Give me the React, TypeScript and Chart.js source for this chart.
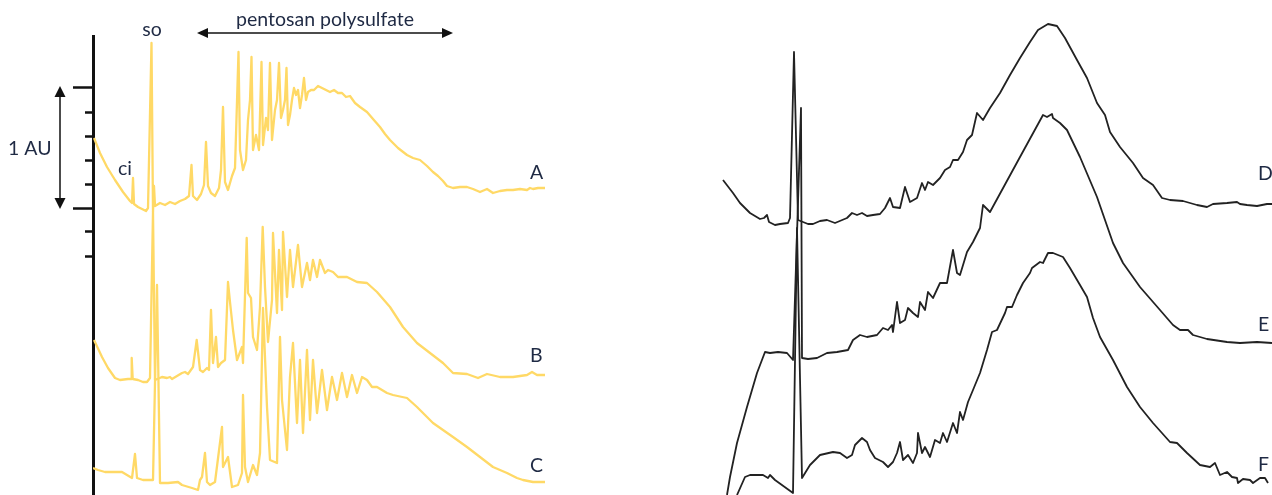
import React, { useEffect, useRef } from "react";
import { Chart, registerables } from "chart.js";

Chart.register(...registerables);

// ---- Left panel: UV absorbance traces A–C (signal units, 120 units = 1 AU) ----
const SIGNAL_PER_AU = 120;
const auTicks = [1, 0.8, 0.6, 0.4, 0.2, 0, -0.2, -0.4];
const auMajorTicks = [1, 0];

const leftLabels = ["A", "B", "C"];
const leftOffsets = [0, -172, -272];

const timeA = [1, 7, 14, 22, 30, 37, 39, 40, 41, 45, 53, 55, 58.5, 60, 61, 62, 67, 72, 77, 82, 87, 92, 96, 98.5, 100, 104, 108, 111, 113, 115, 118, 122, 126, 128, 130, 132, 135, 139, 142, 145.5, 147, 150, 153, 155, 157, 158.5, 160, 163, 166, 168.5, 170, 173, 175, 177, 179, 182, 184, 186, 188, 190, 192, 193.5, 195, 197, 199, 201, 203, 205, 207, 209, 211, 213, 215, 218, 221, 225, 229, 233, 237, 241, 245, 249, 253, 257, 262, 267, 274, 280, 287, 292, 297, 305, 314, 320, 327, 334, 340, 345, 350, 354, 360, 367, 374, 380, 387, 394, 400, 407, 414, 420, 427, 434, 437, 440, 445, 453];
const signalA = [70, 55, 41, 28, 16, 7, 5, 30, 4, 1, -3, 0, 165, -4, 22, 2, 5, 3, 6, 4, 7, 9, 12, 43, 12, 8, 14, 23, 66, 22, 15, 12, 20, 38, 101, 26, 18, 32, 40, 156, 58, 38, 48, 88, 108, 151, 58, 73, 58, 146, 63, 90, 78, 145, 68, 98, 108, 145, 90, 98, 108, 140, 83, 93, 108, 120, 113, 118, 100, 113, 130, 108, 116, 118, 118, 122, 120, 118, 116, 118, 115, 115, 111, 112, 105, 101, 96, 89, 81, 74, 68, 60, 53, 50, 48, 42, 36, 32, 27, 22, 20, 21, 21, 19, 16, 19, 15, 17, 18, 18, 19, 18, 20, 19, 20, 20];

const timeB = [1, 9, 15, 22, 27, 35, 38, 38.7, 39.7, 45, 50, 54, 57, 60, 62, 69, 74, 77, 79, 84, 89, 92, 95, 100, 103.7, 107, 110, 114, 116, 118, 120, 123, 125, 128, 132, 135, 137, 140, 144, 149, 150, 153.7, 155, 158, 160, 164, 167, 169.7, 172, 175, 179, 180, 184, 186, 189, 190, 194, 197, 200, 205, 209, 214, 217, 220, 224, 227, 232, 235, 240, 245, 254, 264, 274, 284, 297, 310, 324, 337, 350, 360, 374, 385, 394, 407, 420, 434, 439, 444, 452];
const signalB = [40, 23, 12, 2, 0, 1, 1, 22, 1, 0, -2, -2, 2, 168, 0, 3, 2, 3, 1, 4, 7, 8, 6, 13, 40, 10, 8, 12, 10, 70, 17, 43, 13, 17, 20, 98, 78, 50, 20, 33, 17, 142, 87, 82, 43, 30, 73, 153, 93, 38, 80, 147, 67, 130, 70, 148, 83, 130, 93, 135, 93, 117, 100, 120, 103, 120, 107, 110, 108, 103, 103, 98, 97, 88, 73, 53, 37, 27, 17, 7, 6, 2, 6, 3, 3, 5, 8, 5, 5];

const timeC = [0, 5, 12, 29, 34, 39, 42, 44, 50, 60, 64, 67, 75, 85, 89, 99, 105, 107, 109, 112, 114, 117, 122, 129, 130, 135, 139, 145, 149, 150, 152, 155, 160, 164, 167, 170, 174, 177, 184, 187, 189, 194, 197, 200, 204, 207, 210, 214, 217, 220, 224, 229, 234, 239, 244, 249, 254, 259, 264, 269, 274, 279, 284, 294, 300, 314, 324, 334, 340, 350, 360, 374, 387, 400, 414, 424, 430, 440, 452];
const signalC = [12, 10, 8, 8, 5, 2, 26, 2, 0, 0, 195, -3, -3, -2, -5, -8, -10, 0, 3, 27, -2, -5, -2, 53, 13, 23, -7, -5, 7, 85, 13, -2, 15, 5, 27, 172, 73, 20, 17, 143, 80, 30, 103, 137, 57, 120, 47, 130, 60, 120, 67, 110, 70, 103, 80, 107, 83, 105, 87, 103, 100, 93, 93, 87, 85, 82, 73, 63, 57, 50, 43, 33, 23, 13, 7, 2, 0, -2, -2];

// ---- Right panel: traces D–F ----
const rightLabels = ["D", "E", "F"];
const rightOffsets = [272, 137, 2];

const timeD = [1, 11, 18, 28, 38, 42, 45, 47, 53, 58, 66, 68, 72, 76, 81, 86, 91, 98, 105, 113, 125, 130, 135, 140, 145, 151, 158, 163, 168, 171, 178, 183, 188, 195, 200, 203, 206, 211, 218, 223, 228, 231, 236, 241, 245, 250, 255, 261, 268, 278, 288, 298, 308, 316, 326, 335, 343, 355, 365, 375, 383, 388, 398, 411, 421, 431, 440, 448, 461, 475, 485, 491, 505, 515, 518, 525, 535, 545, 550];
const signalD = [43, 30, 20, 10, 4, 5, 8, 1, -2, -1, 0, 5, 171, 3, 1, -1, -1, 2, 3, 0, 5, 10, 8, 10, 7, 8, 9, 15, 25, 16, 15, 36, 21, 25, 40, 33, 41, 38, 45, 53, 56, 63, 63, 71, 83, 88, 110, 103, 115, 130, 148, 165, 181, 193, 199, 197, 185, 163, 145, 120, 108, 91, 76, 60, 45, 38, 25, 23, 22, 18, 16, 19, 20, 21, 19, 18, 17, 19, 19];

const timeE = [5, 8, 15, 25, 35, 43, 48, 56, 65, 71, 79, 80, 86, 95, 105, 115, 126, 131, 138, 145, 155, 161, 166, 170, 171, 175, 178, 183, 186, 191, 196, 198, 203, 206, 211, 218, 225, 231, 235, 238, 245, 251, 258, 261, 268, 298, 321, 325, 330, 331, 338, 345, 358, 375, 391, 401, 418, 438, 451, 458, 466, 471, 485, 505, 518, 535, 550];
const signalE = [-137, -119, -85, -49, -15, 6, 5, 6, 5, -2, 250, 0, -1, 0, 5, 6, 8, 18, 23, 21, 23, 30, 28, 33, 26, 56, 35, 38, 50, 45, 41, 56, 48, 66, 60, 75, 75, 108, 85, 83, 106, 116, 130, 153, 146, 201, 243, 241, 244, 240, 235, 228, 201, 161, 115, 95, 71, 48, 33, 28, 28, 23, 19, 16, 15, 16, 15];

const timeF = [15, 23, 28, 41, 46, 48, 53, 71, 75, 80, 88, 98, 111, 118, 125, 130, 133, 140, 145, 148, 153, 161, 166, 171, 175, 178, 181, 186, 191, 195, 196, 200, 203, 208, 213, 218, 221, 225, 231, 235, 238, 241, 246, 251, 258, 265, 270, 275, 283, 285, 290, 295, 301, 308, 310, 318, 321, 326, 331, 341, 348, 358, 365, 371, 378, 391, 405, 418, 431, 448, 455, 465, 478, 488, 493, 498, 505, 510, 515, 516, 521, 528, 531, 538, 543, 546];
const signalF = [-2, 16, 18, 18, 15, 18, 13, 0, 265, 15, 28, 38, 41, 40, 35, 38, 48, 55, 51, 43, 35, 31, 26, 31, 40, 51, 33, 38, 30, 40, 60, 40, 46, 36, 53, 50, 60, 51, 70, 60, 81, 73, 91, 103, 120, 143, 161, 163, 180, 186, 186, 198, 210, 220, 225, 231, 230, 240, 240, 236, 225, 208, 196, 175, 156, 133, 106, 86, 70, 51, 50, 40, 28, 26, 30, 18, 21, 16, 15, 10, 14, 13, 10, 15, 15, 10];

const TEXT_COLOR = "#1f2a44";
const TEXT_FONT = "19.5px Lato, 'Open Sans', sans-serif";

function toPoints(times: number[], signal: number[], offset: number) {
  return times.map((t, i) => ({ x: t, y: offset + signal[i] }));
}

function doubleArrow(ctx: CanvasRenderingContext2D, x1: number, y1: number, x2: number, y2: number, head: number, half: number) {
  const a = Math.atan2(y2 - y1, x2 - x1);
  const c = Math.cos(a);
  const s = Math.sin(a);
  ctx.beginPath();
  ctx.moveTo(x1 + c * head * 0.8, y1 + s * head * 0.8);
  ctx.lineTo(x2 - c * head * 0.8, y2 - s * head * 0.8);
  ctx.stroke();
  const tip = (tx: number, ty: number, dir: number) => {
    const bx = tx - dir * c * head;
    const by = ty - dir * s * head;
    ctx.beginPath();
    ctx.moveTo(tx, ty);
    ctx.lineTo(bx - s * half, by + c * half);
    ctx.lineTo(bx + s * half, by - c * half);
    ctx.closePath();
    ctx.fill();
  };
  tip(x2, y2, 1);
  tip(x1, y1, -1);
}

const leftNotes = {
  id: "leftNotes",
  afterDraw(chart: any) {
    const { ctx } = chart;
    const xs = chart.scales.x;
    const ys = chart.scales.y;
    const X = (v: number) => xs.getPixelForValue(v);
    const Y = (v: number) => ys.getPixelForValue(v);
    ctx.save();
    ctx.fillStyle = TEXT_COLOR;
    ctx.strokeStyle = "#111";
    ctx.font = TEXT_FONT;
    ctx.textBaseline = "alphabetic";

    // peak labels
    ctx.textAlign = "center";
    ctx.fillText("so", X(59), Y(172));
    ctx.textAlign = "left";
    ctx.fillText("ci", X(25), Y(33));

    // elution window of the polysaccharide
    ctx.textAlign = "center";
    ctx.fillText("pentosan polysulfate", X(232), Y(182));
    ctx.lineWidth = 1.5;
    ctx.fillStyle = "#111";
    doubleArrow(ctx, X(104), Y(175), X(360), Y(175), 11, 5);

    // 1 AU scale bar
    doubleArrow(ctx, X(-33), Y(SIGNAL_PER_AU + 2), X(-33), Y(-1), 11, 5.5);
    ctx.fillStyle = TEXT_COLOR;
    ctx.textAlign = "left";
    ctx.fillText("1 AU", X(-85), Y(53));

    // trace names
    const nameY = [29, -154, -264];
    leftLabels.forEach((name, i) => ctx.fillText(name, X(437), Y(nameY[i])));
    ctx.restore();
  },
};

const rightNotes = {
  id: "rightNotes",
  afterDraw(chart: any) {
    const { ctx } = chart;
    const xs = chart.scales.x;
    const ys = chart.scales.y;
    ctx.save();
    ctx.fillStyle = TEXT_COLOR;
    ctx.font = TEXT_FONT;
    ctx.textAlign = "left";
    ctx.textBaseline = "alphabetic";
    const nameY = [315, 164, 24];
    rightLabels.forEach((name, i) => ctx.fillText(name, xs.getPixelForValue(536), ys.getPixelForValue(nameY[i])));
    ctx.restore();
  },
};

export default function App() {
  const leftRef = useRef<HTMLCanvasElement>(null);
  const rightRef = useRef<HTMLCanvasElement>(null);

  useEffect(() => {
    const yellow = {
      borderColor: "#FFD966",
      borderWidth: 2.3,
      pointRadius: 0,
      tension: 0,
      borderJoinStyle: "round" as const,
      fill: false,
    };
    const auTickValues = auTicks.map((v) => v * SIGNAL_PER_AU);
    const auMajorValues = auMajorTicks.map((v) => v * SIGNAL_PER_AU);

    const left = new Chart(leftRef.current!, {
      type: "line",
      data: {
        datasets: [
          { label: leftLabels[0], data: toPoints(timeA, signalA, leftOffsets[0]), ...yellow },
          { label: leftLabels[1], data: toPoints(timeB, signalB, leftOffsets[1]), ...yellow },
          { label: leftLabels[2], data: toPoints(timeC, signalC, leftOffsets[2]), ...yellow },
        ],
      },
      options: {
        animation: false,
        responsive: false,
        events: [],
        layout: { padding: { left: 73, right: 95, top: 36, bottom: 0 } },
        plugins: { legend: { display: false }, tooltip: { enabled: false } },
        scales: {
          x: { type: "linear", min: 0, max: 452, display: false },
          y: {
            type: "linear",
            position: "left",
            weight: 0,
            min: -287,
            max: 172,
            afterBuildTicks: (s: any) => {
              s.ticks = auTickValues.map((v) => ({ value: v }));
            },
            ticks: { display: false },
            grid: { drawOnChartArea: false, drawTicks: true, tickLength: 8, tickWidth: 2.5, tickColor: "#111" },
            border: { display: true, color: "#111", width: 3 },
          },
          y2: {
            type: "linear",
            position: "left",
            weight: 1,
            min: -287,
            max: 172,
            afterBuildTicks: (s: any) => {
              s.ticks = auMajorValues.map((v) => ({ value: v }));
            },
            ticks: { display: false },
            grid: { drawOnChartArea: false, drawTicks: true, tickLength: 12, tickWidth: 2.5, tickColor: "#111" },
            border: { display: false },
          },
        },
      },
      plugins: [leftNotes],
    } as any);

    const black = {
      borderColor: "#222222",
      borderWidth: 1.8,
      pointRadius: 0,
      tension: 0,
      borderJoinStyle: "round" as const,
      fill: false,
    };

    const right = new Chart(rightRef.current!, {
      type: "line",
      data: {
        datasets: [
          { label: rightLabels[0], data: toPoints(timeD, signalD, rightOffsets[0]), ...black },
          { label: rightLabels[1], data: toPoints(timeE, signalE, rightOffsets[1]), ...black },
          { label: rightLabels[2], data: toPoints(timeF, signalF, rightOffsets[2]), ...black },
        ],
      },
      options: {
        animation: false,
        responsive: false,
        events: [],
        layout: { padding: { left: 82, right: 0, top: 0, bottom: 0 } },
        plugins: { legend: { display: false }, tooltip: { enabled: false } },
        scales: {
          x: { type: "linear", min: 0, max: 550, display: false },
          y: { type: "linear", min: 0, max: 495, display: false },
        },
      },
      plugins: [rightNotes],
    } as any);

    return () => {
      left.destroy();
      right.destroy();
    };
  }, []);

  return (
    <div style={{ position: "absolute", left: 0, top: 0, width: 1272, height: 495, background: "#ffffff", overflow: "hidden" }}>
      <canvas ref={leftRef} width={640} height={495} style={{ position: "absolute", left: 0, top: 0 }} />
      <canvas ref={rightRef} width={632} height={495} style={{ position: "absolute", left: 640, top: 0 }} />
    </div>
  );
}
